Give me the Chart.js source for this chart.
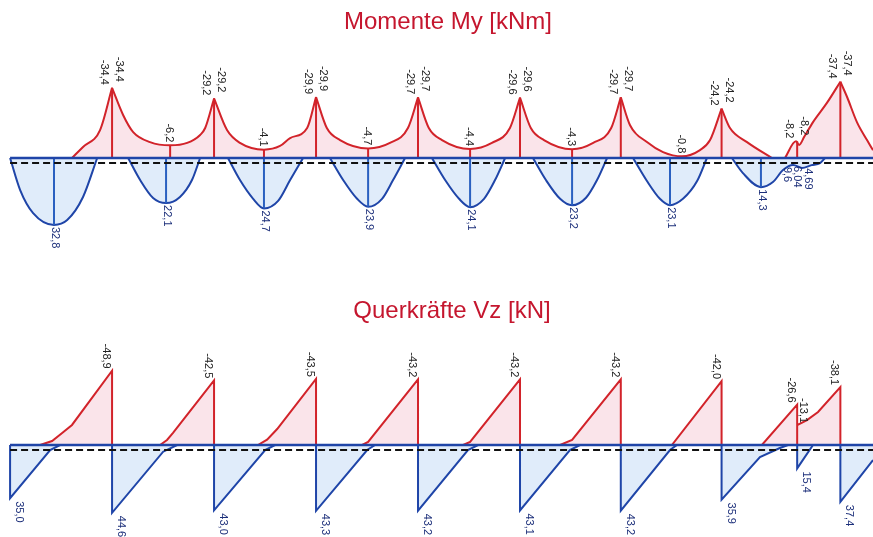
<!DOCTYPE html>
<html>
<head>
<meta charset="utf-8">
<script src="https://cdn.jsdelivr.net/npm/chart.js@4.4.1/dist/chart.umd.min.js"></script>
<style>
  html, body { margin: 0; padding: 0; background: #fff; }
  #wrap { position: relative; width: 873px; height: 537px; overflow: hidden; }
  .box { position: absolute; left: 0; width: 873px; }
</style>
</head>
<body>
<div id="wrap">
  <div class="box" style="top:0;height:285px"><canvas id="momChart"></canvas></div>
  <div class="box" style="top:285px;height:252px"><canvas id="vzChart"></canvas></div>
</div>
<script>
// ==========================
// DATA (x in m, values in kNm / kN)
// ==========================
// moment envelope, min (red), one list per span
const momMinX = [
  [2.58, 3.04, 3.75, 4.25],
  [4.25, 4.71, 5.13, 5.83, 6.67, 7.38, 7.92, 8.13, 8.5],
  [8.5, 9.04, 9.58, 10.58, 11.25, 11.67, 12.38, 12.75],
  [12.75, 13.2, 13.75, 14.92, 15.83, 16.58, 17.0],
  [17.0, 17.45, 18.0, 19.17, 20.08, 20.83, 21.25],
  [21.25, 21.7, 22.25, 23.42, 24.3, 25.05, 25.45],
  [25.45, 25.83, 26.54, 27.21, 28.0, 28.75, 29.17, 29.65],
  [29.65, 30.0, 30.71, 31.75],
  [32.29, 32.75, 32.88, 33.1, 33.46, 34.04, 34.6],
  [34.6, 34.88, 35.29, 35.71, 35.96, 36.25]
];
const momMinY = [
  [0, -5.4, -13.7, -34.4],
  [-34.4, -21.1, -12.7, -7.8, -6.2, -7.4, -11.3, -14.7, -29.2],
  [-29.2, -13.7, -7.4, -4.1, -5.9, -9.8, -14.7, -29.9],
  [-29.9, -14.7, -8.8, -4.7, -7.4, -14.7, -29.7],
  [-29.7, -14.7, -8.8, -4.4, -7.4, -14.7, -29.6],
  [-29.6, -14.7, -8.8, -4.3, -7.4, -14.7, -29.7],
  [-29.7, -16.2, -7.8, -2.9, -0.8, -3.9, -8.8, -24.2],
  [-24.2, -14.7, -7.8, 0],
  [0, -8.2, -6.4, -10.5, -17.6, -27.0, -37.4],
  [-37.4, -29.9, -17.6, -8.8, -3.9, 0]
];
// moment envelope, max (blue)
const momMaxX = [
  [0, 0.42, 0.96, 1.83, 2.38, 3.04, 3.63],
  [4.92, 5.42, 5.96, 6.5, 7.08, 7.58, 7.92],
  [9.08, 9.58, 10.13, 10.58, 11.17, 11.67, 12.21],
  [13.33, 13.88, 14.46, 14.92, 15.5, 15.96, 16.46],
  [17.58, 18.13, 18.71, 19.17, 19.75, 20.21, 20.63],
  [21.79, 22.33, 22.92, 23.42, 24.0, 24.46, 24.88],
  [25.96, 26.54, 27.08, 27.5, 28.04, 28.63, 29.04],
  [30.08, 30.54, 31.29, 31.79, 32.21, 32.63, 33.0, 33.4, 33.75, 33.96]
];
const momMaxY = [
  [0, 15.7, 27.0, 32.8, 30.4, 19.1, 0],
  [0, 10.8, 19.6, 22.1, 19.1, 10.8, 0],
  [0, 10.8, 20.0, 24.7, 21.0, 10.8, 0],
  [0, 10.8, 20.0, 23.9, 20.0, 10.8, 0],
  [0, 10.8, 20.0, 24.1, 20.0, 10.8, 0],
  [0, 10.8, 20.0, 23.2, 19.5, 10.8, 0],
  [0, 11.3, 20.0, 23.1, 20.0, 11.3, 0],
  [0, 7.4, 14.3, 11.8, 5.9, 3.4, 4.9, 3.5, 2.5, 0]
];
// moment labels
const momSupX = [4.25, 8.5, 12.75, 17.0, 21.25, 25.45, 29.65, 32.8, 34.6];
const momSupL = [-34.4, -29.2, -29.9, -29.7, -29.6, -29.7, -24.2, -8.2, -37.4];
const momSupR = [-34.4, -29.2, -29.9, -29.7, -29.6, -29.7, -24.2, -8.2, -37.4];
const momFieldMinX = [6.67, 10.58, 14.92, 19.17, 23.42, 28.0];
const momFieldMin = [-6.2, -4.1, -4.7, -4.4, -4.3, -0.8];
const momFieldMaxX = [1.83, 6.5, 10.58, 14.92, 19.17, 23.42, 27.5, 31.29];
const momFieldMax = [32.8, 22.1, 24.7, 23.9, 24.1, 23.2, 23.1, 14.3];
const momSmallX = [32.38, 32.79, 33.25];
const momSmallV = [3.4, 3.0, 4.0];
const momSmallText = ["9,6", "6,04", "4,69"];

// shear envelope
const vzMinX = [0, 1.25, 1.75, 2.17, 2.58, 4.25, 4.25, 6.25, 6.54, 6.79, 8.5, 8.5, 10.33, 10.71, 11.13, 12.75, 12.75,
  14.67, 14.92, 17.0, 17.0, 18.88, 19.17, 21.25, 21.25, 22.92, 23.42, 25.45, 25.45, 27.58, 29.65, 29.65,
  31.33, 32.8, 32.8, 32.8, 33.21, 33.67, 34.6, 34.6, 36.3];
const vzMinY = [0, 0, -2.6, -7.9, -13.2, -48.9, 0, 0, -3.3, -7.9, -42.5, 0, 0, -3.5, -10.5, -43.5, 0,
  0, -2.0, -43.2, 0, 0, -2.0, -43.2, 0, 0, -3.3, -43.2, 0, 0, -42.0, 0,
  0, -26.6, 0, -13.1, -16.4, -21.7, -38.1, 0, 0];
const vzMaxX = [0, 0, 1.67, 2.08, 4.25, 4.25, 6.38, 6.96, 8.5, 8.5, 10.63, 11.04, 12.75, 12.75, 14.88, 15.21,
  17.0, 17.0, 19.08, 19.5, 21.25, 21.25, 23.33, 23.75, 25.45, 25.45, 27.5, 27.79,
  29.65, 29.65, 31.25, 32.08, 32.42, 32.8, 32.8, 33.46, 34.6, 34.6, 35.96, 36.45];
const vzMaxY = [0, 35.0, 3.3, 0, 0, 44.6, 4.4, 0, 0, 43.0, 3.3, 0, 0, 43.3, 3.3, 0,
  0, 43.2, 3.3, 0, 0, 43.1, 3.3, 0, 0, 43.2, 3.3, 0,
  0, 35.9, 7.9, 2.0, 0, 0, 15.4, 0, 0, 37.4, 9.9, 0];
const vzSupX = [0, 4.25, 8.5, 12.75, 17.0, 21.25, 25.45, 29.65, 32.8, 34.6];
const vzSupMin = [null, -48.9, -42.5, -43.5, -43.2, -43.2, -43.2, -42.0, -26.6, -38.1];
const vzSupMax = [35.0, 44.6, 43.0, 43.3, 43.2, 43.1, 43.2, 35.9, 15.4, 37.4];
const vzInnerX = [32.8];
const vzInnerMin = [-13.1];

// ==========================
// STYLE
// ==========================
const RED = "#d2232a";
const RED_FILL = "rgba(240,165,185,0.30)";
const BLUE = "#1f45a8";
const BLUE_FILL = "rgba(165,200,240,0.35)";
const NAVY_TXT = "#1c2f7a";
const DARK_TXT = "#222";
const TITLE_RED = "#c5162e";
const X_MIN = -0.42, X_MAX = 35.96;
const fmt = v => v.toFixed(1).replace(".", ",");

// ==========================
// DRAW HELPERS
// ==========================
function vLabel(ctx, x, y, text, up) {
  ctx.save();
  ctx.translate(x, y);
  ctx.rotate(Math.PI / 2);
  ctx.textAlign = up ? "right" : "left";
  ctx.textBaseline = "middle";
  ctx.fillText(text, 0, 0);
  ctx.restore();
}

const beamDecor = {
  id: "beamDecor",
  afterDatasetsDraw(chart, args, opts) {
    const { ctx, chartArea } = chart;
    const xs = chart.scales.x, ys = chart.scales.y;
    const y0 = ys.getPixelForValue(0);
    ctx.save();

    // ordinate lines
    (opts.ordinates || []).forEach(o => {
      const px = xs.getPixelForValue(o.x);
      ctx.strokeStyle = o.color;
      ctx.lineWidth = 2;
      ctx.beginPath();
      ctx.moveTo(px, y0);
      ctx.lineTo(px, ys.getPixelForValue(o.v));
      ctx.stroke();
    });

    // beam axis + dashed fibre line
    const xStart = xs.getPixelForValue(0);
    ctx.strokeStyle = BLUE;
    ctx.lineWidth = 2.5;
    ctx.beginPath();
    ctx.moveTo(xStart, y0);
    ctx.lineTo(chartArea.right, y0);
    ctx.stroke();
    ctx.strokeStyle = "#111";
    ctx.lineWidth = 2;
    ctx.setLineDash([7, 4]);
    ctx.beginPath();
    ctx.moveTo(xStart, y0 + 5);
    ctx.lineTo(chartArea.right, y0 + 5);
    ctx.stroke();
    ctx.setLineDash([]);

    // value labels
    ctx.font = '11px "Liberation Sans", Arial, sans-serif';
    (opts.labels || []).forEach(l => {
      const px = xs.getPixelForValue(l.x) + l.dx;
      const py = ys.getPixelForValue(l.v) + (l.up ? -l.gap : l.gap);
      ctx.fillStyle = l.up ? DARK_TXT : NAVY_TXT;
      vLabel(ctx, px, py, l.text || fmt(l.v), l.up);
    });

    // heading
    ctx.font = '24px "Liberation Sans", Arial, sans-serif';
    ctx.fillStyle = TITLE_RED;
    ctx.textAlign = "center";
    ctx.textBaseline = "alphabetic";
    ctx.fillText(opts.title, opts.titleX, opts.titleY);
    ctx.restore();
  }
};

function seg(xs, ys, line, fillc, smooth) {
  return {
    data: xs.map((x, j) => ({ x: x, y: ys[j] })),
    borderColor: line,
    backgroundColor: fillc,
    borderWidth: 2,
    fill: "origin",
    pointRadius: 0,
    tension: 0,
    cubicInterpolationMode: smooth ? "monotone" : "default"
  };
}

function makeChart(id, datasets, yMin, yMax, decor) {
  return new Chart(document.getElementById(id), {
    type: "line",
    data: { datasets: datasets },
    options: {
      responsive: true,
      maintainAspectRatio: false,
      animation: false,
      layout: { padding: 0 },
      plugins: { legend: { display: false }, tooltip: { enabled: false }, beamDecor: decor },
      scales: {
        x: { type: "linear", min: X_MIN, max: X_MAX, display: false },
        y: { type: "linear", min: yMin, max: yMax, reverse: true, display: false }
      }
    },
    plugins: [beamDecor]
  });
}

// ==========================
// MOMENT CHART
// ==========================
const momSets = [];
momMinX.forEach((xs, i) => momSets.push(seg(xs, momMinY[i], RED, RED_FILL, true)));
momMaxX.forEach((xs, i) => momSets.push(seg(xs, momMaxY[i], BLUE, BLUE_FILL, true)));

const momOrd = [];
momSupX.forEach((x, i) => momOrd.push({ x: x, v: Math.min(momSupL[i], momSupR[i]), color: RED }));
momFieldMinX.forEach((x, i) => momOrd.push({ x: x, v: momFieldMin[i], color: RED }));
momFieldMaxX.forEach((x, i) => momOrd.push({ x: x, v: momFieldMax[i], color: "#2a60c0" }));

const momLabels = [];
momSupX.forEach((x, i) => {
  momLabels.push({ x: x, v: momSupL[i], dx: -8, gap: 3, up: true });
  momLabels.push({ x: x, v: momSupR[i], dx: 7, gap: 6, up: true });
});
momFieldMinX.forEach((x, i) => momLabels.push({ x: x, v: momFieldMin[i], dx: -1, gap: 3, up: true }));
momFieldMaxX.forEach((x, i) => momLabels.push({ x: x, v: momFieldMax[i], dx: 1, gap: 2, up: false }));
momSmallX.forEach((x, i) => momLabels.push({ x: x, v: momSmallV[i], text: momSmallText[i], dx: 0, gap: 2, up: false }));

makeChart("momChart", momSets, -77.45, 62.25, {
  title: "Momente My [kNm]", titleX: 448, titleY: 29,
  ordinates: momOrd, labels: momLabels
});

// ==========================
// SHEAR CHART
// ==========================
const vzSets = [
  seg(vzMinX, vzMinY, RED, RED_FILL, false),
  seg(vzMaxX, vzMaxY, BLUE, BLUE_FILL, false)
];
const vzLabels = [];
vzSupX.forEach((x, i) => {
  if (vzSupMin[i] !== null) vzLabels.push({ x: x, v: vzSupMin[i], dx: -6, gap: 2, up: true });
  vzLabels.push({ x: x, v: vzSupMax[i], dx: 9, gap: 3, up: false });
});
vzInnerX.forEach((x, i) => vzLabels.push({ x: x, v: vzInnerMin[i], dx: 6, gap: 2, up: true }));

makeChart("vzChart", vzSets, -105.26, 60.53, {
  title: "Querkräfte Vz [kN]", titleX: 452, titleY: 33,
  ordinates: [], labels: vzLabels
});
</script>
</body>
</html>
